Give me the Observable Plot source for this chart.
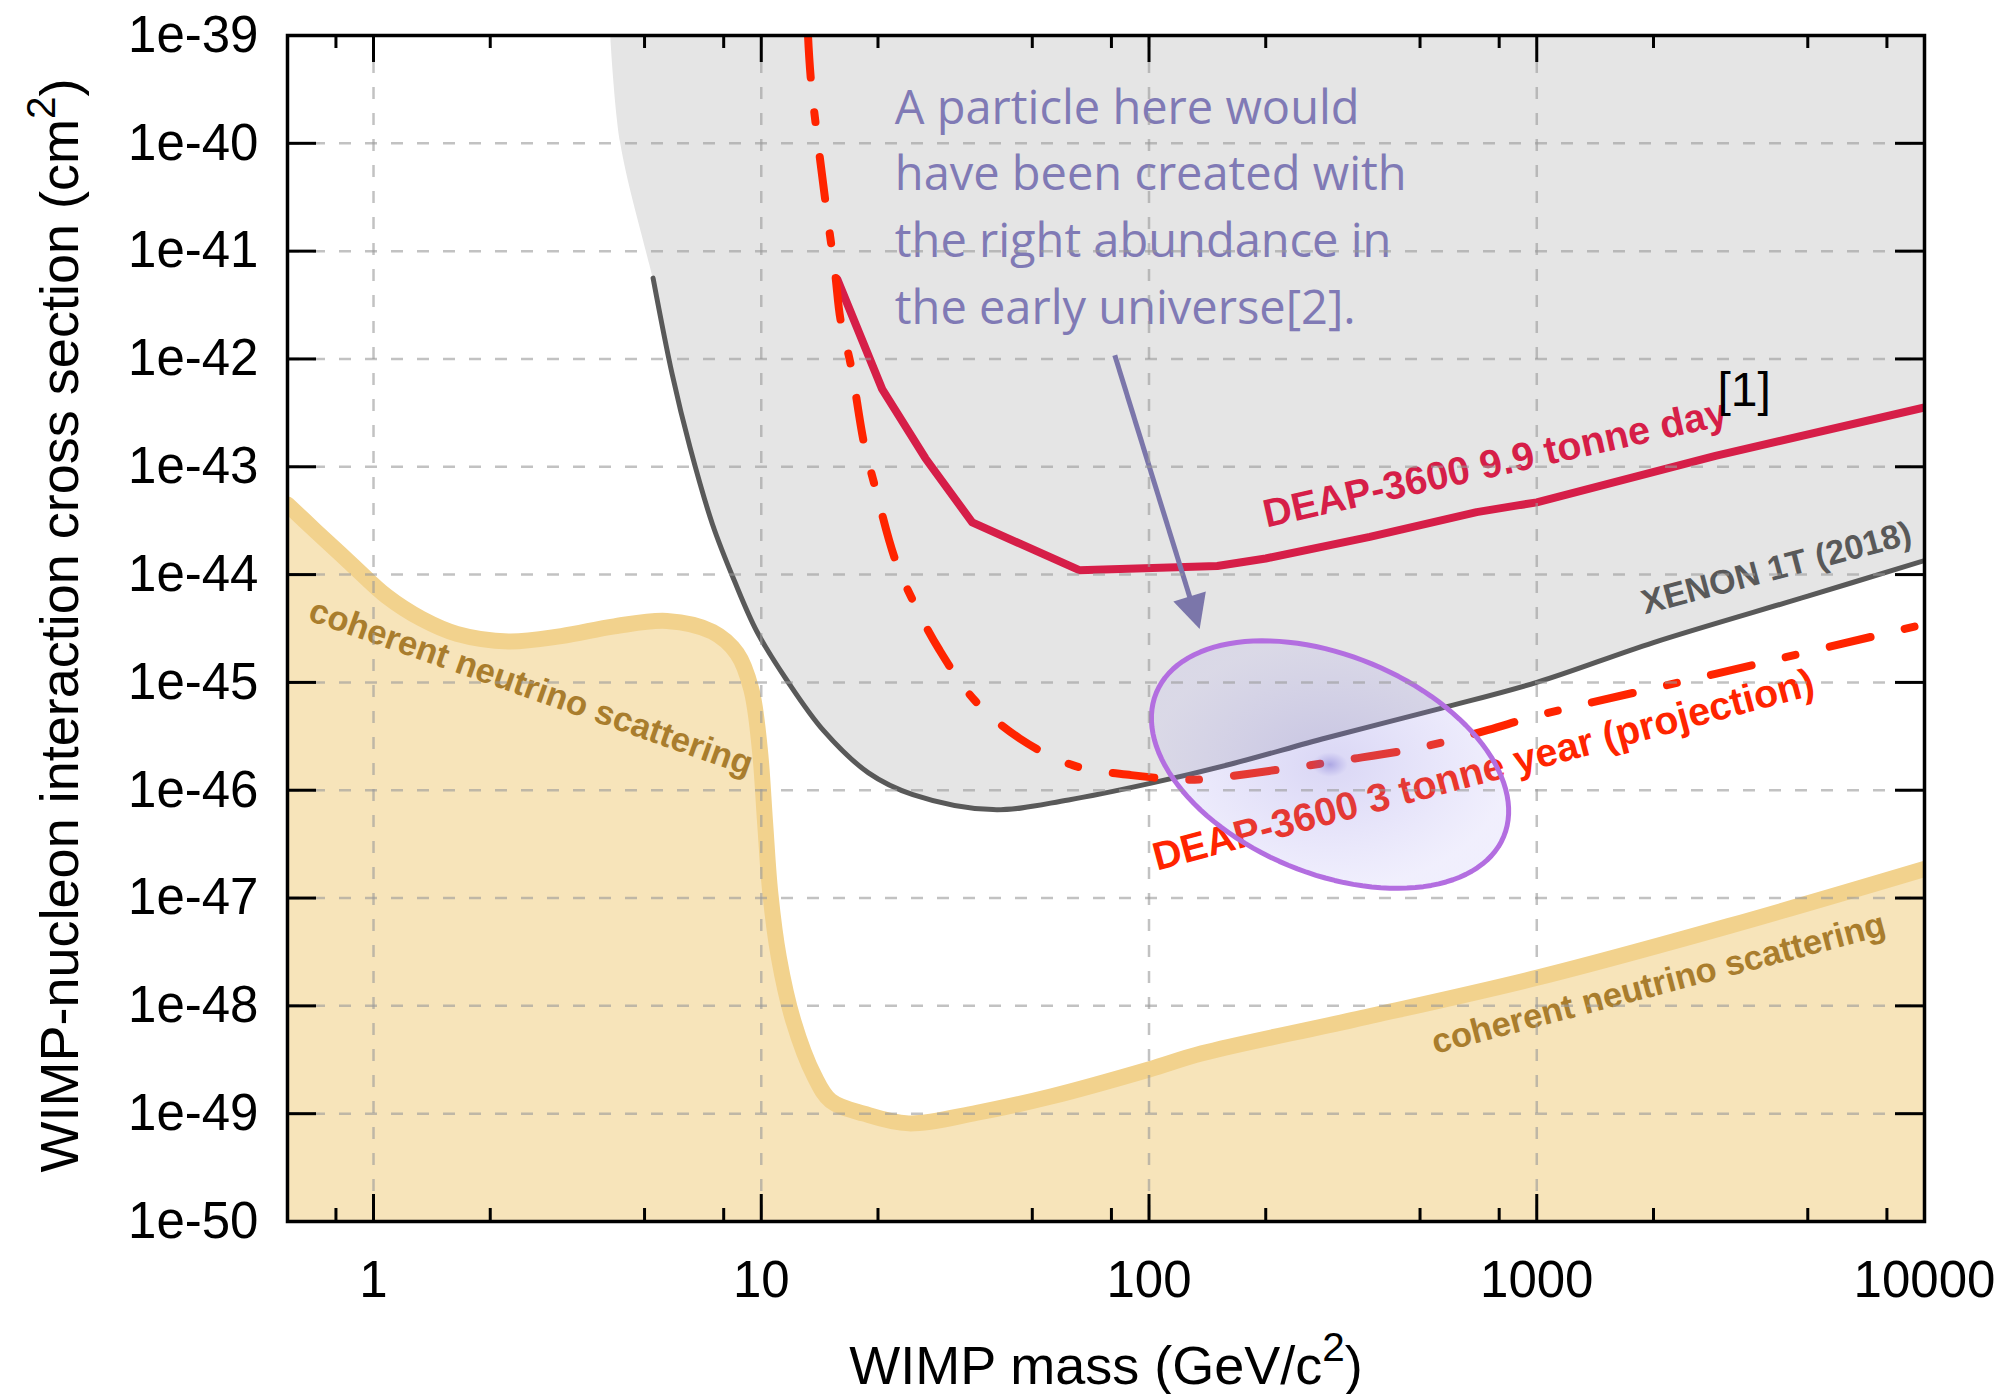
<!DOCTYPE html>
<html><head><meta charset="utf-8">
<script src="https://cdn.jsdelivr.net/npm/d3@7"></script>
<script src="https://cdn.jsdelivr.net/npm/@observablehq/plot@0.6"></script>
<style>
html,body{margin:0;padding:0;background:#fff;}
</style>
</head><body>
<script>
// ---------------- data ----------------
const xenonEdgeMass  = [4.09, 4.34, 5.05];
const xenonEdgeSigma = [1e-39, 1e-40, 1e-41];
const xenonMass  = [5.26, 5.89, 6.55, 7.48, 8.53, 9.75, 11.7, 14.5, 18.9, 24.6, 39.6, 62, 100, 162, 286, 566, 1000, 2000, 5000, 10000];
const xenonSigma = [5.62e-42, 7.24e-43, 1.51e-43, 2.95e-44, 8.71e-45, 2.95e-45, 1.02e-45, 3.55e-46, 1.45e-46, 9.12e-47, 6.61e-47, 8.13e-47, 1.15e-46, 1.74e-46, 3.05e-46, 5.75e-46, 1.0e-45, 2.34e-45, 6.31e-45, 1.35e-44];
const deapMass  = [15.7, 20.5, 26.5, 35.0, 66.1, 150, 200, 371, 700, 1000, 2890, 10000];
const deapSigma = [5.5e-42, 5.25e-43, 1.2e-43, 3.05e-44, 1.10e-44, 1.20e-44, 1.41e-44, 2.24e-44, 3.80e-44, 4.68e-44, 1.26e-43, 3.55e-43];
const projMass  = [13.2, 13.45, 14.65, 15.5, 16.0, 17.05, 18.4, 19.6, 22.1, 24.6, 28.8, 35.6, 46.4, 63.8, 90, 120, 136, 204, 321, 506, 750, 1000, 2890, 10000];
const projSigma = [1e-39, 3.63e-40, 2.82e-41, 6.31e-42, 2.34e-42, 8.51e-43, 1.66e-43, 6.76e-44, 1.41e-44, 5.75e-45, 2.0e-45, 6.76e-46, 3.02e-46, 1.70e-46, 1.38e-46, 1.26e-46, 1.26e-46, 1.51e-46, 1.91e-46, 2.51e-46, 3.63e-46, 4.90e-46, 1.20e-45, 3.47e-45];
const nuMass  = [0.6, 0.711, 0.875, 1.08, 1.33, 1.64, 2.23, 3.05, 4.18, 5.71, 7.48, 8.66, 9.42, 9.91, 10.23, 10.55, 11.1, 12.1, 13.7, 15.1, 18.4, 24, 36, 56.2, 100, 137, 336, 1000, 3130, 10000];
const nuSigma = [4.47e-44, 2.51e-44, 1.26e-44, 6.31e-45, 3.89e-45, 2.82e-45, 2.40e-45, 2.69e-45, 3.31e-45, 3.72e-45, 2.95e-45, 1.86e-45, 8.71e-46, 2.45e-46, 5.01e-47, 1.12e-47, 2.82e-48, 7.24e-49, 2.24e-49, 1.32e-49, 1.0e-49, 8.13e-50, 1.02e-49, 1.45e-49, 2.57e-49, 3.63e-49, 7.41e-49, 1.82e-48, 5.50e-48, 1.86e-47];
const wimpRegionCenter = [293, 1.73e-46];          // mass, cross section
const arrowFrom = [81.6, 1.08e-42], arrowTo = [135.1, 3.13e-45];

const yTickVals = [1e-39, 1e-40, 1e-41, 1e-42, 1e-43, 1e-44, 1e-45, 1e-46, 1e-47, 1e-48, 1e-49, 1e-50];
const yGrid = [1e-40, 1e-41, 1e-42, 1e-43, 1e-44, 1e-45, 1e-46, 1e-47, 1e-48, 1e-49];
const xTickVals = [1, 10, 100, 1000, 10000];
const xGrid = [1, 10, 100, 1000];
const xMinor = [0.8, 2, 5, 8, 20, 50, 80, 200, 500, 800, 2000, 5000, 8000];
const annotText = ["A particle here would", "have been created with", "the right abundance in", "the early universe[2]."];
const nuLabel = "coherent neutrino scattering";
const deapLabel = "DEAP-3600 9.9 tonne day";
const projLabel = "DEAP-3600 3 tonne year (projection)";
const xenonLabel = "XENON 1T (2018)";
const yTitle = "WIMP-nucleon interaction cross section (cm²)";
const xTitle = "WIMP mass (GeV/c²)";

// ---------------- tables ----------------
const zip = (xs, ys) => xs.map((x, i) => ({x, y: ys[i]}));
const xenonFill = zip(xenonEdgeMass.concat(xenonMass), xenonEdgeSigma.concat(xenonSigma));
const xenon = zip(xenonMass, xenonSigma);
const deap = zip(deapMass, deapSigma);
const proj = zip(projMass, projSigma);
const nu = zip(nuMass, nuSigma);

// ---------------- layout ----------------
const W = 2006, H = 1394, mL = 287, mR = 82, mT = 35, mB = 173;
const fW = W - mL - mR, fH = H - mT - mB;
const xDomain = [0.6, 10000], yDomain = [1e-50, 1e-39];
const xs = Plot.scale({x: {type: "log", domain: xDomain, range: [mL, W - mR]}});
const ys = Plot.scale({y: {type: "log", domain: yDomain, range: [H - mB, mT]}});
const inv = ([px, py]) => ({x: xs.invert(px), y: ys.invert(py)});

// ellipse outline through the scales
const ecx = xs.apply(wimpRegionCenter[0]), ecy = ys.apply(wimpRegionCenter[1]);
const ea = 188, eb = 109, eth = 22.5 * Math.PI / 180;
const ellipse = d3.range(0, 360, 3).map(deg => {
  const t = deg * Math.PI / 180;
  return inv([ecx + ea * Math.cos(t) * Math.cos(eth) - eb * Math.sin(t) * Math.sin(eth),
              ecy + ea * Math.cos(t) * Math.sin(eth) + eb * Math.sin(t) * Math.cos(eth)]);
});

// arrow
const sx = xs.apply(arrowFrom[0]), sy = ys.apply(arrowFrom[1]);
const tx = xs.apply(arrowTo[0]), ty = ys.apply(arrowTo[1]);
const L = Math.hypot(tx - sx, ty - sy), ux = (tx - sx) / L, uy = (ty - sy) / L;
const hl = 34, hw = 17, bx = tx - ux * hl, by = ty - uy * hl;
const shaft = [inv([sx, sy]), inv([bx + ux * 4, by + uy * 4])];
const head = [inv([tx, ty]), inv([bx - uy * hw, by + ux * hw]), inv([bx + uy * hw, by - ux * hw])];

const gridStyle = {stroke: "#9a9a9a", strokeOpacity: 0.6, strokeWidth: 2.5, strokeDasharray: "12,14"};
const bold = "bold";
const smooth = "catmull-rom";

const plot = Plot.plot({
  width: W, height: H,
  marginLeft: mL, marginRight: mR, marginTop: mT, marginBottom: mB,
  x: {type: "log", domain: xDomain},
  y: {type: "log", domain: yDomain},
  style: {fontFamily: "'Liberation Sans', Arial, Helvetica, sans-serif", background: "white", color: "black", overflow: "visible"},
  marks: [
    Plot.areaY(xenonFill, {x: "x", y1: "y", y2: 1e-39, fill: "#e5e5e5", curve: smooth, clip: true}),
    Plot.areaY(nu, {x: "x", y1: 1e-50, y2: "y", fill: "#f7e4ba", curve: smooth, clip: true}),
    Plot.line(nu, {x: "x", y: "y", stroke: "#f2d28d", strokeWidth: 16, curve: smooth, clip: true}),
    Plot.line(xenon, {x: "x", y: "y", stroke: "#595959", strokeWidth: 5, curve: smooth, clip: true}),
    Plot.line(deap, {x: "x", y: "y", stroke: "#d61e48", strokeWidth: 8, curve: "linear", clip: true}),
    Plot.line(proj, {x: "x", y: "y", stroke: "#ff2400", strokeWidth: 8, curve: smooth, strokeDasharray: "42,35,10,35", strokeLinecap: "round", clip: true}),
    // labels
    Plot.text([annotText.join("\n")], {x: () => 22.1, y: () => 2.12e-42, text: d => d, textAnchor: "start", lineAnchor: "bottom", lineHeight: 66.7 / 47, fontSize: 47, fontFamily: "'Open Sans', Lato, sans-serif", fill: "#807ab5"}),
    Plot.text([nuLabel], {x: () => 0.673, y: () => 3.81e-45, text: d => d, rotate: 19.5, textAnchor: "start", lineAnchor: "bottom", fontSize: 34.5, fontWeight: bold, fill: "#a97d2d"}),
    Plot.text([nuLabel], {x: () => 547, y: () => 3.58e-49, text: d => d, rotate: -14.8, textAnchor: "start", lineAnchor: "bottom", fontSize: 34.5, fontWeight: bold, fill: "#a97d2d"}),
    Plot.text([deapLabel], {x: () => 201, y: () => 2.73e-44, text: d => d, rotate: -12.6, textAnchor: "start", lineAnchor: "bottom", fontSize: 39.5, fontWeight: bold, fill: "#d61e48"}),
    Plot.text(["[1]"], {x: () => 2923, y: () => 3.7e-43, text: d => d, textAnchor: "start", lineAnchor: "bottom", fontSize: 48, fill: "black"}),
    Plot.text([xenonLabel], {x: () => 1902, y: () => 4.28e-45, text: d => d, rotate: -14.8, textAnchor: "start", lineAnchor: "bottom", fontSize: 34, fontWeight: bold, fill: "#595959"}),
    Plot.text([projLabel], {x: () => 104.9, y: () => 1.79e-47, text: d => d, rotate: -15, textAnchor: "start", lineAnchor: "bottom", fontSize: 39.5, fontWeight: bold, fill: "#ff2400"}),
    // ellipse and arrow
    Plot.line(ellipse, {x: "x", y: "y", curve: "linear-closed", fill: "#123456", stroke: "#b36ee0", strokeWidth: 5}),
    Plot.line(shaft, {x: "x", y: "y", stroke: "#7b76aa", strokeWidth: 5, strokeLinecap: "butt"}),
    Plot.line(head, {x: "x", y: "y", curve: "linear-closed", fill: "#7b76aa", stroke: "none"}),
    // grid (in front)
    Plot.ruleY(yGrid, {y: d => d, ...gridStyle}),
    Plot.ruleX(xGrid, {x: d => d, ...gridStyle}),
    // ticks (inward, mirrored)
    Plot.tickY(yGrid, {y: d => d, insetRight: fW - 29, stroke: "black", strokeWidth: 3}),
    Plot.tickY(yGrid, {y: d => d, insetLeft: fW - 29, stroke: "black", strokeWidth: 3}),
    Plot.tickX(xGrid, {x: d => d, insetTop: fH - 27, stroke: "black", strokeWidth: 3}),
    Plot.tickX(xGrid, {x: d => d, insetBottom: fH - 27, stroke: "black", strokeWidth: 3}),
    Plot.tickX(xMinor, {x: d => d, insetTop: fH - 13, stroke: "black", strokeWidth: 3}),
    Plot.tickX(xMinor, {x: d => d, insetBottom: fH - 13, stroke: "black", strokeWidth: 3}),
    Plot.axisY({ticks: yTickVals, tickSize: 0, tickPadding: 29, fontSize: 51, label: null, tickFormat: d => "1e" + Math.round(Math.log10(d))}),
    Plot.axisX({ticks: xTickVals, tickSize: 0, tickPadding: 39, fontSize: 51, label: null, tickFormat: d => String(d)}),
    Plot.text([yTitle], {frameAnchor: "left", dx: -227, dy: -3, rotate: -90, text: d => d, textAnchor: "middle", lineAnchor: "middle", fontSize: 54, fill: "black"}),
    Plot.text([xTitle], {frameAnchor: "bottom", dy: 162, text: d => d, textAnchor: "middle", lineAnchor: "bottom", fontSize: 54, fill: "black"}),
    Plot.frame({stroke: "black", strokeWidth: 3.5})
  ]
});

// radial gradient for the ellipse
const ns = "http://www.w3.org/2000/svg";
const defs = document.createElementNS(ns, "defs");
defs.innerHTML = '<radialGradient id="ellGrad" cx="0.5" cy="0.5" r="0.5">' +
  '<stop offset="0" stop-color="rgb(105,95,205)" stop-opacity="0.55"/>' +
  '<stop offset="0.1" stop-color="rgb(130,120,222)" stop-opacity="0.28"/>' +
  '<stop offset="1" stop-color="rgb(150,140,240)" stop-opacity="0.14"/>' +
  '</radialGradient>';
plot.insertBefore(defs, plot.firstChild);
plot.querySelectorAll('[fill="#123456"]').forEach(el => el.setAttribute("fill", "url(#ellGrad)"));

// real superscript "2" in the axis titles
plot.querySelectorAll("text").forEach(el => {
  if (el.childElementCount === 0 && el.textContent.includes("²")) {
    const [pre, post] = el.textContent.split("²");
    el.textContent = "";
    const t1 = document.createElementNS(ns, "tspan"); t1.textContent = pre;
    const t2 = document.createElementNS(ns, "tspan"); t2.textContent = "2";
    t2.setAttribute("font-size", "75%"); t2.setAttribute("baseline-shift", "55%");
    const t3 = document.createElementNS(ns, "tspan"); t3.textContent = post;
    el.append(t1, t2, t3);
  }
});
document.body.append(plot);
</script>
</body></html>
